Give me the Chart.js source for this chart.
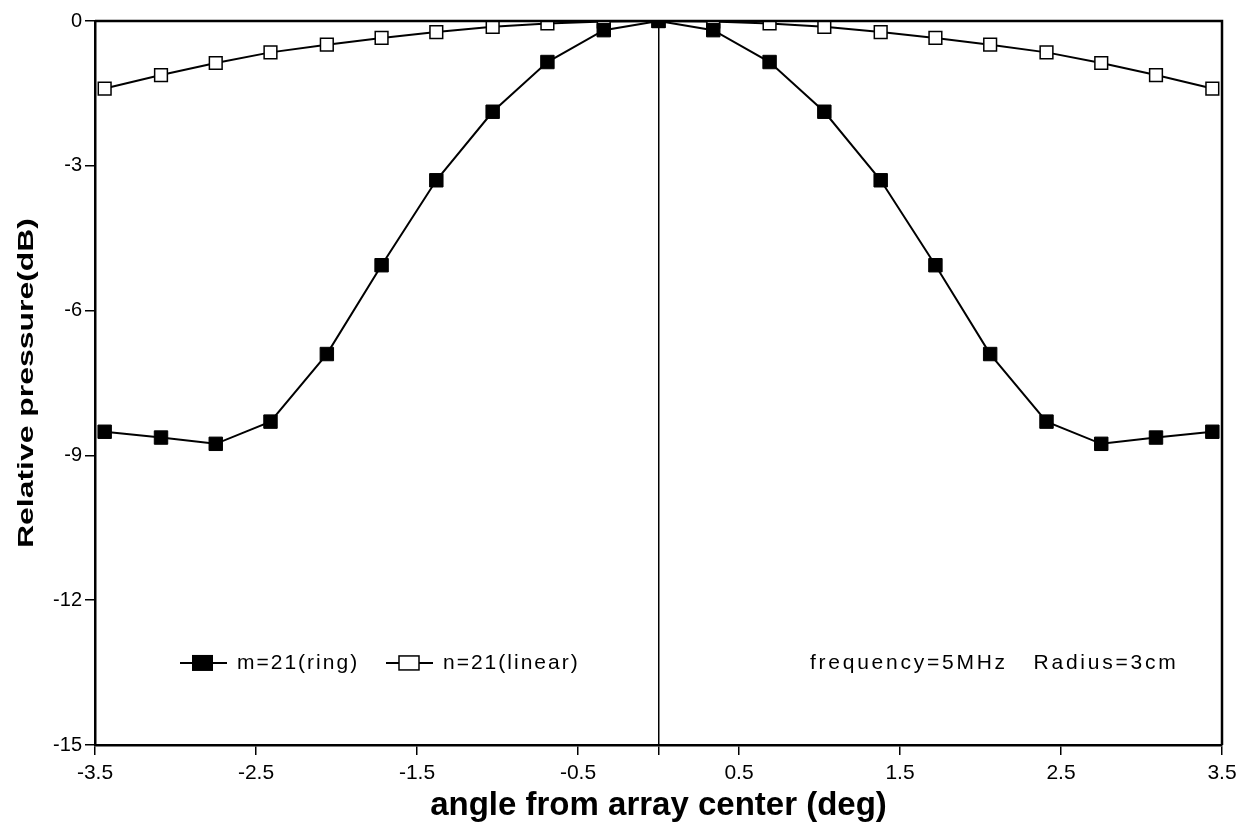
<!DOCTYPE html>
<html>
<head>
<meta charset="utf-8">
<script src="https://cdn.jsdelivr.net/npm/chart.js@4/dist/chart.umd.min.js"></script>
<style>
  html, body { margin: 0; padding: 0; background: #fff; }
  #wrap { width: 1248px; height: 833px; }
</style>
</head>
<body>
<div id="wrap"><canvas id="grafico"></canvas></div>
<script>
// angles (deg) of the 21 sample points
const angulos = [-3.44, -3.09, -2.75, -2.41, -2.06, -1.72, -1.38, -1.03, -0.69, -0.34, 0,
                 0.34, 0.69, 1.03, 1.38, 1.72, 2.06, 2.41, 2.75, 3.09, 3.44];
// m=21 (ring)
const anel = [-8.51, -8.63, -8.76, -8.30, -6.90, -5.06, -3.30, -1.88, -0.85, -0.19, 0,
              -0.19, -0.85, -1.88, -3.30, -5.06, -6.90, -8.30, -8.76, -8.63, -8.51];
// n=21 (linear)
const linear = [-1.40, -1.12, -0.87, -0.65, -0.49, -0.35, -0.23, -0.12, -0.05, -0.01, 0,
                -0.01, -0.05, -0.12, -0.23, -0.35, -0.49, -0.65, -0.87, -1.12, -1.40];

const xTicks = [-3.5, -2.5, -1.5, -0.5, 0, 0.5, 1.5, 2.5, 3.5];
const yTicks = [-15, -12, -9, -6, -3, 0];

const legendas = ['m=21(ring)', 'n=21(linear)'];
const notaTexto = 'frequency=5MHz   Radius=3cm';
const tituloX = 'angle from array center (deg)';
const tituloY = 'Relative pressure(dB)';

const fonte = "'Liberation Sans', Arial, sans-serif";

const pontos = arr => arr.map((v, i) => ({ x: angulos[i], y: v }));

// box + legend + note + rotated y title
const extras = {
  id: 'extras',
  afterDraw(chart) {
    const { ctx, chartArea: a, scales } = chart;
    ctx.save();
    ctx.strokeStyle = '#000';
    ctx.lineWidth = 2.5;
    ctx.beginPath();
    ctx.moveTo(a.left, a.top);
    ctx.lineTo(a.right, a.top);
    ctx.lineTo(a.right, a.bottom);
    ctx.stroke();

    // legend
    const ly = scales.y.getPixelForValue(-13.3);
    const itens = [
      { x0: 180, fill: true, label: legendas[0] },
      { x0: 386, fill: false, label: legendas[1] }
    ];
    ctx.font = '21px ' + fonte;
    ctx.letterSpacing = '2px';
    ctx.textBaseline = 'middle';
    ctx.fillStyle = '#000';
    itens.forEach(it => {
      ctx.lineWidth = 2;
      ctx.beginPath();
      ctx.moveTo(it.x0, ly);
      ctx.lineTo(it.x0 + 47, ly);
      ctx.stroke();
      if (it.fill) {
        ctx.fillRect(it.x0 + 12, ly - 8, 21, 16);
      } else {
        ctx.fillStyle = '#fff';
        ctx.fillRect(it.x0 + 13, ly - 7, 20, 14);
        ctx.fillStyle = '#000';
        ctx.lineWidth = 1.5;
        ctx.strokeRect(it.x0 + 13, ly - 7, 20, 14);
      }
      ctx.textAlign = 'left';
      ctx.fillText(it.label, it.x0 + 57, ly);
    });

    ctx.letterSpacing = '2.75px';
    ctx.fillText(notaTexto, 810, ly);
    ctx.letterSpacing = '0px';

    // y title (stretched like the original)
    ctx.font = 'bold 22px ' + fonte;
    ctx.translate(27, (a.top + a.bottom) / 2);
    ctx.rotate(-Math.PI / 2);
    const w = ctx.measureText(tituloY).width;
    ctx.scale(330 / w, 1);
    ctx.textAlign = 'center';
    ctx.fillText(tituloY, 0, 0);
    ctx.restore();
  }
};

new Chart(document.getElementById('grafico'), {
  type: 'line',
  data: {
    datasets: [
      {
        label: legendas[0],
        data: pontos(anel),
        borderColor: '#000',
        borderWidth: 2,
        backgroundColor: '#000',
        pointStyle: 'rect',
        pointRadius: 9.5,
        pointBorderWidth: 1,
        pointBorderColor: '#000',
        pointBackgroundColor: '#000'
      },
      {
        label: legendas[1],
        data: pontos(linear),
        borderColor: '#000',
        borderWidth: 2,
        pointStyle: 'rect',
        pointRadius: 9,
        pointBorderWidth: 1.5,
        pointBorderColor: '#000',
        pointBackgroundColor: '#fff'
      }
    ]
  },
  options: {
    responsive: true,
    maintainAspectRatio: false,
    animation: false,
    layout: { padding: { top: 21, right: 26, left: 0, bottom: 7 } },
    plugins: {
      legend: { display: false },
      tooltip: { enabled: false }
    },
    scales: {
      x: {
        type: 'linear',
        min: -3.5,
        max: 3.5,
        afterBuildTicks: s => { s.ticks = xTicks.map(v => ({ value: v })); },
        afterFit: s => { s.height = 81; },
        ticks: {
          color: '#000',
          font: { family: fonte, size: 21 },
          padding: 6,
          maxRotation: 0,
          autoSkip: false,
          callback: v => (v === 0 ? '' : String(v))
        },
        grid: {
          color: c => (c.tick && c.tick.value === 0 ? '#000' : 'rgba(0,0,0,0)'),
          lineWidth: 1.5,
          tickColor: '#000',
          tickLength: 10
        },
        border: { display: true, color: '#000', width: 2.5 },
        title: {
          display: true,
          text: tituloX,
          color: '#000',
          font: { family: fonte, size: 33, weight: 'bold' },
          padding: { top: 0, bottom: 0 }
        }
      },
      y: {
        type: 'linear',
        min: -15,
        max: 0,
        afterBuildTicks: s => { s.ticks = yTicks.map(v => ({ value: v })); },
        afterFit: s => { s.width = 95; },
        ticks: {
          color: '#000',
          font: { family: fonte, size: 20 },
          padding: 3
        },
        grid: {
          drawOnChartArea: false,
          tickColor: '#000',
          tickLength: 10,
          lineWidth: 1.5
        },
        border: { display: true, color: '#000', width: 2.5 }
      }
    }
  },
  plugins: [extras]
});
</script>
</body>
</html>
